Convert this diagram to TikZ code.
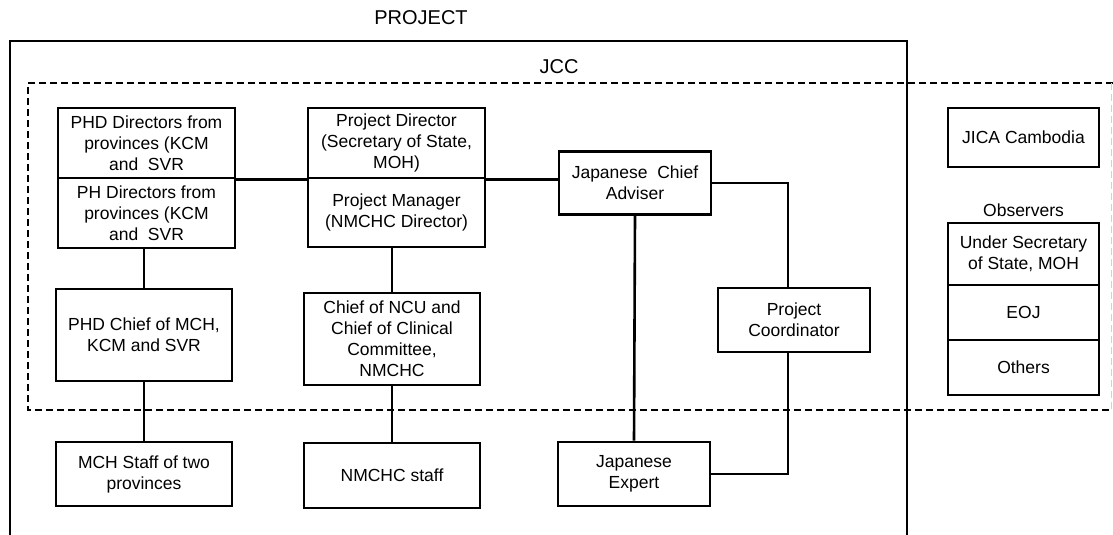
\documentclass[tikz,border=0pt]{standalone}
\usepackage{fontspec}
\setmainfont{Liberation Sans}
\begin{document}
\begin{tikzpicture}[x=1pt,y=-1pt,
  box/.style={draw, line width=2.8pt, align=center, inner sep=0pt,
    font=\fontsize{17.5}{21}\selectfont},
  conn/.style={line width=2.6pt},
  lbl/.style={font=\fontsize{17.5}{21}\selectfont, inner sep=0pt},
  biglbl/.style={font=\fontsize{20}{24}\selectfont, inner sep=0pt},
  frame/.style={line width=2.8pt},
  dashframe/.style={line width=2.8pt, dash pattern=on 7pt off 4pt}]
\useasboundingbox (0,0) rectangle (1113,535);
% PROJECT frame (open at the bottom edge of the picture)
\draw[frame] (10,550) -- (10,41) -- (907,41) -- (907,550);
% JCC dashed frame
\draw[dashframe] (1113,83) -- (28,83) -- (28,410) -- (1113,410);
\draw[gray!35, line width=1.2pt, dash pattern=on 7pt off 4pt] (1111.5,83) -- (1111.5,410);
% labels
\node[biglbl] (project) at (421,18) {PROJECT};
\node[biglbl] (jcc) at (559,67) {JCC};
\node[lbl] (obs) at (1023.5,210) {Observers};
% left column
\node[box, minimum width=177, minimum height=70] (phd) at (146.5,143) {PHD Directors from\\provinces (KCM\\and\ \ SVR};
\node[box, minimum width=177, minimum height=70] (ph) at (146.5,213) {PH Directors from\\provinces (KCM\\and\ \ SVR};
\node[box, minimum width=176, minimum height=92] (phdchief) at (144,335) {PHD Chief of MCH,\\KCM and SVR};
\node[box, minimum width=176, minimum height=64] (mch) at (144,474) {MCH Staff of two\\provinces};
% middle column
\node[box, minimum width=177, minimum height=70] (pd) at (396.5,143) {Project Director\\(Secretary of State,\\MOH)};
\node[box, minimum width=177, minimum height=69] (pm) at (396.5,212.5) {Project Manager\\(NMCHC Director)};
\node[box, minimum width=176, minimum height=92] (ncu) at (392,339) {Chief of NCU and\\Chief of Clinical\\Committee,\\NMCHC};
\node[box, minimum width=176, minimum height=65] (nmchc) at (392,475.5) {NMCHC staff};
% Japanese side
\node[box, minimum width=152, minimum height=63] (jca) at (635,183) {Japanese\ \ Chief\\Adviser};
\node[box, minimum width=152, minimum height=64] (pc) at (794,320) {Project\\Coordinator};
\node[box, minimum width=152, minimum height=64] (je) at (634,474) {Japanese\\Expert};
\coordinate (pcline) at (788,320);
% right side
\node[box, minimum width=151, minimum height=59] (jica) at (1023.5,137.5) {JICA Cambodia};
\node[box, minimum width=151, minimum height=62] (usec) at (1023.5,254) {Under Secretary\\of State, MOH};
\node[box, minimum width=151, minimum height=55] (eoj) at (1023.5,312.5) {EOJ};
\node[box, minimum width=151, minimum height=55] (others) at (1023.5,367.5) {Others};
% connectors
\draw[conn] (phd.south east) -- (pd.south west);
\draw[conn] (pd.south east) -- (pd.south east -| jca.west);
\draw[conn] (jca.east) -| (pcline |- pc.north);
\draw[conn] (jca.south) -- (je.north);
\draw[conn] (pcline |- pc.south) |- (je.east);
\draw[conn] (phdchief.north |- ph.south) -- (phdchief.north);
\draw[conn] (phdchief.south) -- (mch.north);
\draw[conn] (ncu.north |- pm.south) -- (ncu.north);
\draw[conn] (ncu.south) -- (nmchc.north);
\end{tikzpicture}
\end{document}
